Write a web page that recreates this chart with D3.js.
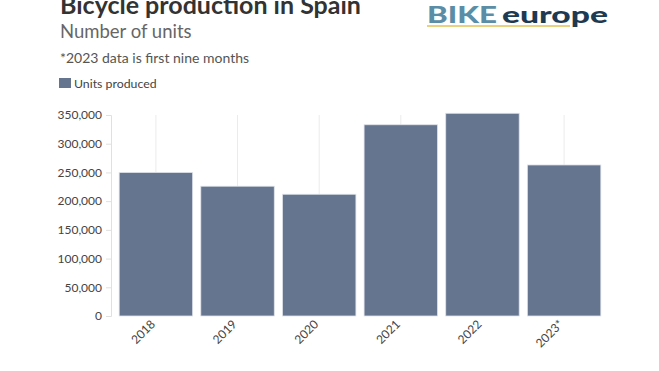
<!DOCTYPE html>
<html>
<head>
<meta charset="utf-8">
<script src="https://cdn.jsdelivr.net/npm/d3@7"></script>
<style>
  html, body { margin: 0; padding: 0; background: #fff; }
  svg { display: block; font-family: Lato, "Noto Sans", sans-serif; }
</style>
</head>
<body>
<svg id="chart" width="659" height="371"></svg>
<script>
var years = ['2018', '2019', '2020', '2021', '2022', '2023*'];
var units = [250000, 226000, 212000, 333000, 353000, 263000];
var yTicks = [0, 50000, 100000, 150000, 200000, 250000, 300000, 350000];

var svg = d3.select('#chart');
var W = 659, H = 371;
var m = { top: 115, left: 111, right: 50, bottom: 55 };

// heading block (the title is clipped at the top edge, as in the source image)
svg.append('text').attr('x', 60).attr('y', 14).attr('font-size', 25).attr('font-weight', 700)
  .attr('fill', '#333').text('Bicycle production in Spain');
svg.append('text').attr('x', 60).attr('y', 38).attr('font-size', 18.5).attr('fill', '#666').text('Number of units');
svg.append('text').attr('x', 60).attr('y', 63).attr('font-size', 14).attr('fill', '#555').text('*2023 data is first nine months');
svg.append('rect').attr('x', 59).attr('y', 78).attr('width', 12).attr('height', 10).attr('fill', '#66758f');
svg.append('text').attr('x', 74).attr('y', 88).attr('font-size', 12.3).attr('fill', '#444').text('Units produced');

// logo
svg.append('text').attr('x', 427).attr('y', 22.5).attr('font-size', 22.5).attr('font-weight', 900)
  .attr('fill', '#5b8ea6').attr('textLength', 70).attr('lengthAdjust', 'spacingAndGlyphs').text('BIKE');
svg.append('text').attr('x', 502).attr('y', 22.5).attr('font-size', 22.5).attr('font-weight', 900)
  .attr('fill', '#1e3a52').attr('textLength', 106).attr('lengthAdjust', 'spacingAndGlyphs').text('europe');
svg.append('rect').attr('x', 427).attr('y', 25).attr('width', 143).attr('height', 2).attr('fill', '#e9d27e');

var x = d3.scaleBand().domain(years).range([m.left, W - m.right]).padding(0.1);
var y = d3.scaleLinear().domain([0, 350000]).range([316, m.top]);

// vertical gridlines at category centres
svg.append('g').selectAll('line').data(years).enter().append('line')
  .attr('x1', function(d) { return x(d) + x.bandwidth() / 2; })
  .attr('x2', function(d) { return x(d) + x.bandwidth() / 2; })
  .attr('y1', y(350000)).attr('y2', y(0))
  .attr('stroke', '#ebebeb').attr('stroke-width', 1);

var yAxis = svg.append('g').attr('transform', 'translate(' + m.left + ',0)')
  .call(d3.axisLeft(y).tickValues(yTicks).tickSize(5).tickPadding(4).tickFormat(d3.format(',')));
yAxis.select('.domain').attr('stroke', '#e0e0e0');
yAxis.selectAll('.tick line').attr('stroke', '#e0e0e0');
yAxis.selectAll('.tick text').attr('font-size', 12).attr('fill', '#444').attr('font-family', 'Lato, "Noto Sans", sans-serif');

svg.append('g').selectAll('rect').data(years).enter().append('rect')
  .attr('x', function(d) { return x(d); })
  .attr('y', function(d, i) { return y(units[i]); })
  .attr('width', x.bandwidth())
  .attr('height', function(d, i) { return y(0) - y(units[i]); })
  .attr('fill', '#66758f').attr('stroke', '#dfe3ea').attr('stroke-width', 0.8);

svg.append('g').selectAll('text').data(years).enter().append('text')
  .attr('transform', function(d) { return 'translate(' + (x(d) + x.bandwidth() / 2) + ',325) rotate(-45)'; })
  .attr('text-anchor', 'end').attr('font-size', 12).attr('fill', '#444').text(function(d) { return d; });
</script>
</body>
</html>
